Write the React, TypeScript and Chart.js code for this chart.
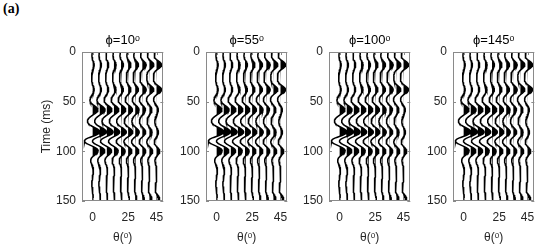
import { useEffect, useRef } from "react";
import { Chart, registerables } from "chart.js";
Chart.register(...registerables);

const PANEL_TITLES = ["ϕ=10ᵒ", "ϕ=55ᵒ", "ϕ=100ᵒ", "ϕ=145ᵒ"];
const ANGLES = [0, 5, 10, 15, 20, 25, 30, 35, 40, 45];
const X_TICKS = [0, 25, 45];
const Y_TICKS = [0, 50, 100, 150];
const EVENT_TIMES = [13, 38, 58, 70, 81, 89, 100, 118, 133, 148];
const AMP_T13 = [1.1, 1.2, 1.3, 1.5, 1.7, 2.0, 2.3, 2.7, 3.1, 3.6];
const AMP_T38 = [1.1, 1.2, 1.3, 1.5, 1.7, 2.0, 2.3, 2.7, 3.1, 3.6];
const AMP_T58 = [3.3, 3.3, 3.2, 3.1, 3.0, 2.8, 2.5, 2.1, 1.7, 1.2];
const AMP_T70 = [-1.4, -1.3, -1.2, -1.1, -1.0, -0.8, -0.6, -0.5, -0.4, -0.3];
const AMP_T81 = [3.2, 3.2, 3.1, 3.0, 2.9, 2.7, 2.4, 2.1, 1.7, 1.3];
const AMP_T89 = [-3.4, -2.7, -2.1, -1.5, -1.1, -0.8, -0.5, -0.3, -0.1, 0.0];
const AMP_T100 = [2.6, 2.6, 2.6, 2.5, 2.5, 2.4, 2.4, 2.3, 2.3, 2.3];
const AMP_T118 = [0.6, 0.6, 0.5, 0.5, 0.4, 0.4, 0.3, 0.3, 0.2, 0.2];
const AMP_T133 = [-0.5, -0.5, -0.4, -0.4, -0.3, -0.3, -0.3, -0.2, -0.2, -0.2];
const AMP_T148 = [0.3, 0.4, 0.4, 0.5, 0.6, 0.8, 1.0, 1.3, 1.7, 2.2];
const EVENT_AMPS = [AMP_T13, AMP_T38, AMP_T58, AMP_T70, AMP_T81, AMP_T89, AMP_T100, AMP_T118, AMP_T133, AMP_T148];
const WAVELET_HZ = 42;
const TIME_STEP = 0.5;
const TIME_MAX = 150;

const PANEL_LEFT = [82, 206, 329, 453];
const PANEL_W = 85;
const CANVAS_H = 249;
const RIGHT_PAD = 6;
const FONT = "'Liberation Sans', Arial, sans-serif";
const BORDER = "#8a8a8a";
const TEXT = "#262626";

function ricker(tMs: number) {
  const a = Math.PI * WAVELET_HZ * tMs / 1000;
  const a2 = a * a;
  return (1 - 2 * a2) * Math.exp(-a2);
}

function traceValue(j: number, t: number) {
  let s = 0;
  for (let k = 0; k < EVENT_TIMES.length; k++) s += EVENT_AMPS[k][j] * ricker(t - EVENT_TIMES[k]);
  return s;
}

const boxPlugin = {
  id: "boxTicks",
  afterDraw(chart: any) {
    const { ctx, chartArea } = chart;
    const { left, top, right, bottom } = chartArea;
    const sx = chart.scales.x, sy = chart.scales.y;
    ctx.save();
    ctx.strokeStyle = BORDER;
    ctx.lineWidth = 1;
    ctx.strokeRect(Math.round(left) + 0.5, Math.round(top) + 0.5, Math.round(right - left) - 1, Math.round(bottom - top) - 1);
    ctx.beginPath();
    Y_TICKS.forEach((v) => {
      const p = Math.round(sy.getPixelForValue(v)) + 0.5;
      ctx.moveTo(left, p); ctx.lineTo(left + 3, p);
      ctx.moveTo(right, p); ctx.lineTo(right - 3, p);
    });
    X_TICKS.forEach((v) => {
      const p = Math.round(sx.getPixelForValue(v)) + 0.5;
      ctx.moveTo(p, bottom); ctx.lineTo(p, bottom - 3);
      ctx.moveTo(p, top); ctx.lineTo(p, top + 3);
    });
    ctx.stroke();
    ctx.restore();
  },
};

function Panel({ idx }: { idx: number }) {
  const ref = useRef<HTMLCanvasElement>(null);
  const canvasLeft = idx === 0 ? 0 : PANEL_LEFT[idx] - 40;
  const yw = PANEL_LEFT[idx] - canvasLeft;
  const cw = yw + PANEL_W + RIGHT_PAD;
  useEffect(() => {
    const times: number[] = [];
    for (let t = 0; t <= TIME_MAX + 1e-9; t += TIME_STEP) times.push(t);
    const datasets: any[] = [];
    ANGLES.forEach((a, j) => {
      const pts = times.map((t) => ({ y: t, x: a + traceValue(j, t) }));
      datasets.push({
        data: pts.map((p) => ({ y: p.y, x: Math.max(p.x, a) })),
        borderWidth: 0,
        borderColor: "rgba(0,0,0,0)",
        backgroundColor: "#000",
        pointRadius: 0,
        fill: { value: a },
        tension: 0,
      });
      datasets.push({
        data: pts,
        borderWidth: 1.5,
        borderColor: "#000",
        pointRadius: 0,
        fill: false,
        tension: 0,
      });
    });
    const chart = new Chart(ref.current!, {
      type: "line",
      data: { datasets },
      plugins: [boxPlugin],
      options: {
        animation: false,
        responsive: false,
        maintainAspectRatio: false,
        devicePixelRatio: 1,
        indexAxis: "y",
        layout: { padding: { left: 0, right: RIGHT_PAD, top: 0, bottom: 0 } },
        plugins: {
          legend: { display: false },
          tooltip: { enabled: false },
          title: {
            display: true,
            text: PANEL_TITLES[idx],
            fullSize: false,
            color: "#000",
            font: { family: FONT, size: 13, weight: "normal" },
            padding: { top: 32.4, bottom: 4 },
          },
        },
        scales: {
          y: {
            type: "linear",
            reverse: true,
            min: 0,
            max: TIME_MAX,
            afterBuildTicks: (s: any) => { s.ticks = Y_TICKS.map((v) => ({ value: v })); },
            afterFit: (s: any) => { s.width = yw; },
            grid: { display: false, drawTicks: false },
            border: { display: false },
            ticks: { color: TEXT, font: { family: FONT, size: 12 }, padding: 6 },
            title: {
              display: idx === 0,
              text: "Time (ms)",
              color: TEXT,
              font: { family: FONT, size: 12 },
              padding: { top: 39.8, bottom: 0 },
            },
          },
          x: {
            type: "linear",
            min: -7.5,
            max: 49.8,
            afterBuildTicks: (s: any) => { s.ticks = X_TICKS.map((v) => ({ value: v })); },
            afterFit: (s: any) => { s.height = 48; },
            grid: { display: false, drawTicks: false },
            border: { display: false },
            ticks: { color: TEXT, font: { family: FONT, size: 12 }, padding: 9, maxRotation: 0 },
            title: {
              display: true,
              text: "θ(ᵒ)",
              color: TEXT,
              font: { family: FONT, size: 12 },
              padding: { top: 0, bottom: 3.8 },
            },
          },
        },
      } as any,
    });
    return () => chart.destroy();
  }, [idx]);
  return (
    <canvas
      ref={ref}
      width={cw}
      height={CANVAS_H}
      style={{ position: "absolute", left: canvasLeft, top: 0, width: cw, height: CANVAS_H }}
    />
  );
}

export default function App() {
  return (
    <div style={{ position: "absolute", left: 0, top: 0, width: 550, height: 249, background: "#fff", overflow: "hidden" }}>
      <div style={{ position: "absolute", left: 3, top: 1, font: "bold 14px 'Liberation Serif', serif", color: "#000" }}>(a)</div>
      {[0, 1, 2, 3].map((i) => (
        <Panel key={i} idx={i} />
      ))}
    </div>
  );
}
